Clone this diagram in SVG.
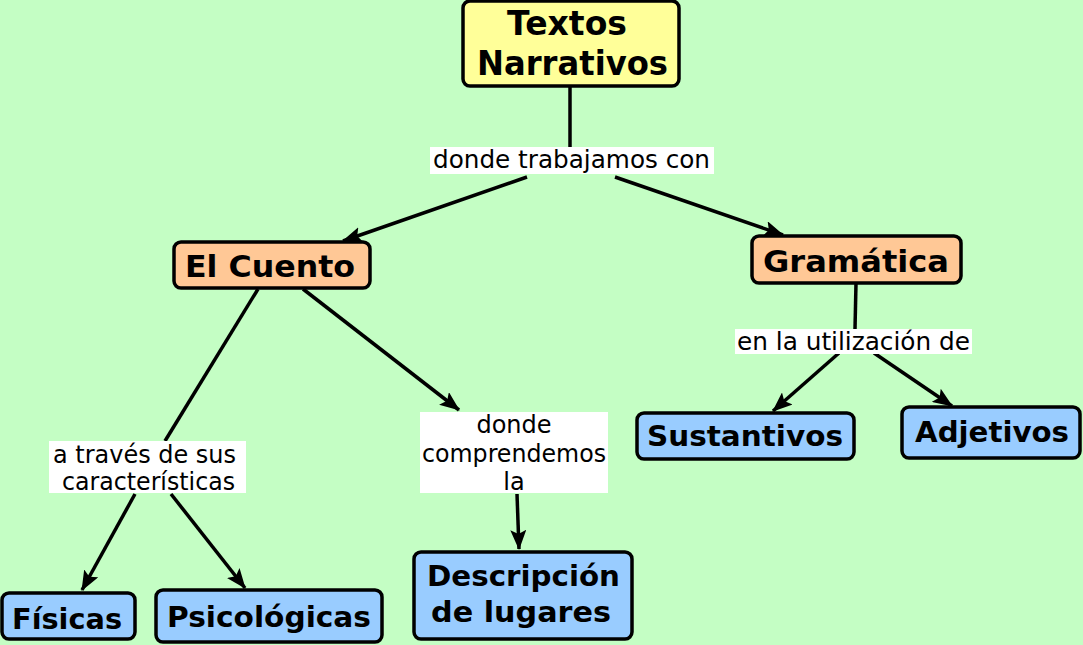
<svg xmlns="http://www.w3.org/2000/svg" width="1083" height="645" viewBox="0 0 1083 645">
<defs>
<style>
.node rect{stroke:#000;stroke-width:3.5}
.y{fill:#ffff99}
.o{fill:#ffc896}
.b{fill:#99ccff}
.nt{font-family:"DejaVu Sans",Verdana,sans-serif;font-weight:bold;fill:#000;text-anchor:start}
.lt{font-family:"DejaVu Sans",Verdana,sans-serif;font-size:24px;fill:#000}
.lb{fill:#fff}
.c line{stroke:#000;stroke-width:3.5}
</style>
<marker id="ah" markerUnits="userSpaceOnUse" viewBox="0 0 20 16" refX="19" refY="8" markerWidth="20" markerHeight="16" orient="auto">
<path d="M0,0 L20,8 L0,16 L4,8 z" fill="#000"/>
</marker>
</defs>
<rect width="1083" height="645" fill="#c4fec4"/>
<g id="connectors" class="c">
<line x1="570" y1="86" x2="570" y2="147"/>
<line x1="527" y1="177" x2="343" y2="241" marker-end="url(#ah)"/>
<line x1="615" y1="177" x2="783" y2="235" marker-end="url(#ah)"/>
<line x1="258" y1="289" x2="165" y2="441"/>
<line x1="303" y1="289" x2="459" y2="410" marker-end="url(#ah)"/>
<line x1="135" y1="494" x2="82" y2="590" marker-end="url(#ah)"/>
<line x1="171" y1="494" x2="245" y2="588" marker-end="url(#ah)"/>
<line x1="517" y1="494" x2="519" y2="549" marker-end="url(#ah)"/>
<line x1="856" y1="283" x2="855" y2="329"/>
<line x1="839" y1="353" x2="773" y2="411" marker-end="url(#ah)"/>
<line x1="874" y1="353" x2="952" y2="406" marker-end="url(#ah)"/>
</g>
<g id="lbl-trabajamos">
<rect class="lb" x="430" y="147" width="284" height="27"/>
<text class="lt" x="433" y="168" textLength="277" lengthAdjust="spacingAndGlyphs">donde trabajamos con</text>
</g>
<g id="lbl-caracteristicas">
<rect class="lb" x="49" y="441" width="197" height="52"/>
<text class="lt" x="53" y="463" textLength="183" lengthAdjust="spacingAndGlyphs">a través de sus</text>
<text class="lt" x="62" y="490" textLength="173" lengthAdjust="spacingAndGlyphs">características</text>
</g>
<g id="lbl-comprendemos">
<rect class="lb" x="420" y="412" width="188" height="81"/>
<text class="lt" x="514" y="433" text-anchor="middle">donde</text>
<text class="lt" x="422" y="462" textLength="184" lengthAdjust="spacingAndGlyphs">comprendemos</text>
<text class="lt" x="514" y="490" text-anchor="middle">la</text>
</g>
<g id="lbl-utilizacion">
<rect class="lb" x="735" y="329" width="237" height="25"/>
<text class="lt" x="737" y="350" textLength="233" lengthAdjust="spacingAndGlyphs">en la utilización de</text>
</g>
<g id="n-textos" class="node">
<rect class="y" x="463" y="1" width="216" height="85" rx="7"/>
<text class="nt" x="507" y="35" font-size="33" textLength="120" lengthAdjust="spacingAndGlyphs">Textos</text>
<text class="nt" x="477" y="75" font-size="33" textLength="191" lengthAdjust="spacingAndGlyphs">Narrativos</text>
</g>
<g id="n-cuento" class="node">
<rect class="o" x="174" y="242" width="196" height="46" rx="7"/>
<text class="nt" x="185" y="277" font-size="30" textLength="170" lengthAdjust="spacingAndGlyphs">El Cuento</text>
</g>
<g id="n-gramatica" class="node">
<rect class="o" x="752" y="236" width="209" height="47" rx="7"/>
<text class="nt" x="763" y="272" font-size="30" textLength="186" lengthAdjust="spacingAndGlyphs">Gramática</text>
</g>
<g id="n-sustantivos" class="node">
<rect class="b" x="637" y="413" width="217" height="46" rx="7"/>
<text class="nt" x="647" y="446" font-size="29" textLength="196" lengthAdjust="spacingAndGlyphs">Sustantivos</text>
</g>
<g id="n-adjetivos" class="node">
<rect class="b" x="902" y="407" width="178" height="51" rx="7"/>
<text class="nt" x="915" y="442" font-size="29" textLength="154" lengthAdjust="spacingAndGlyphs">Adjetivos</text>
</g>
<g id="n-fisicas" class="node">
<rect class="b" x="2" y="593" width="133" height="46" rx="7"/>
<text class="nt" x="12" y="629" font-size="29" textLength="110" lengthAdjust="spacingAndGlyphs">Físicas</text>
</g>
<g id="n-psicologicas" class="node">
<rect class="b" x="156" y="590" width="226" height="52" rx="7"/>
<text class="nt" x="167" y="627" font-size="29" textLength="204" lengthAdjust="spacingAndGlyphs">Psicológicas</text>
</g>
<g id="n-descripcion" class="node">
<rect class="b" x="414" y="552" width="218" height="87" rx="7"/>
<text class="nt" x="427" y="586" font-size="29" textLength="193" lengthAdjust="spacingAndGlyphs">Descripción</text>
<text class="nt" x="431" y="622" font-size="29" textLength="180" lengthAdjust="spacingAndGlyphs">de lugares</text>
</g>
</svg>
